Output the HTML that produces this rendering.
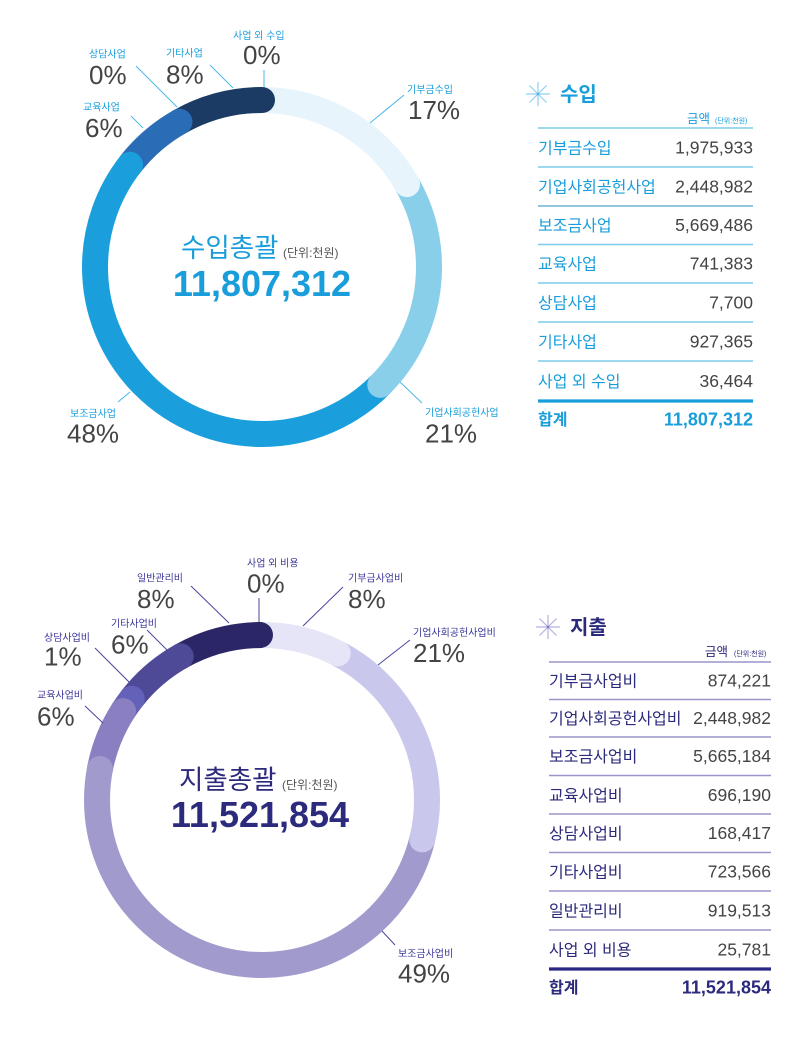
<!DOCTYPE html>
<html lang="ko">
<head>
<meta charset="utf-8">
<style>
  html, body { margin: 0; padding: 0; background: #ffffff; }
  body { width: 800px; height: 1051px; overflow: hidden; }
  svg { display: block; }
  .kr { font-family: "Liberation Sans", "Noto Sans CJK KR", sans-serif; }
  .num { font-family: "Liberation Sans", "Noto Sans CJK KR", sans-serif; }
</style>
</head>
<body>
<svg width="800" height="1051" viewBox="0 0 800 1051" xmlns="http://www.w3.org/2000/svg">
  <rect x="0" y="0" width="800" height="1051" fill="#ffffff"/>

  <!-- ================= TOP DONUT (수입) ================= -->
  <g fill="none" stroke-width="26" transform="rotate(-90 262 267)">
    <circle cx="262" cy="267" r="167" stroke="#e7f4fb" stroke-dasharray="176.6 3000" stroke-dashoffset="0"/>
    <circle cx="262" cy="267" r="167" stroke="#8acfea" stroke-dasharray="218.6 3000" stroke-dashoffset="-175.6"/>
    <circle cx="262" cy="267" r="167" stroke="#1b9fdc" stroke-dasharray="504.8 3000" stroke-dashoffset="-393.2"/>
    <circle cx="262" cy="267" r="167" stroke="#2a6db6" stroke-dasharray="66.9 3000" stroke-dashoffset="-897.1"/>
    <circle cx="262" cy="267" r="167" stroke="#1b3b64" stroke-dasharray="86.4 3000" stroke-dashoffset="-962.9"/>
  </g>
  <g>
    <circle cx="262" cy="100" r="13" fill="#1b3b64"/>
    <circle cx="179.5" cy="121.8" r="13" fill="#2a6db6"/>
    <circle cx="130.0" cy="164.8" r="13" fill="#1b9fdc"/>
    <circle cx="380.3" cy="384.9" r="13" fill="#8acfea"/>
    <circle cx="407.0" cy="184.1" r="13" fill="#e7f4fb"/>
  </g>

  <!-- top leader lines -->
  <g stroke="#4ab8e6" stroke-width="1">
    <line x1="264" y1="70" x2="264" y2="87"/>
    <line x1="210" y1="65" x2="233" y2="88"/>
    <line x1="136" y1="66" x2="177" y2="107"/>
    <line x1="131" y1="116" x2="143" y2="128"/>
    <line x1="404" y1="95" x2="370" y2="123"/>
    <line x1="118" y1="402" x2="130" y2="392"/>
    <line x1="400" y1="382" x2="422" y2="403"/>
  </g>

  <!-- top labels -->
  <g class="kr" font-size="10" fill="#1a9edb">
    <text x="233" y="39">사업 외 수입</text>
    <text x="166" y="56.5">기타사업</text>
    <text x="89" y="57.5">상담사업</text>
    <text x="83" y="110.5">교육사업</text>
    <text x="407" y="93">기부금수입</text>
    <text x="70" y="417">보조금사업</text>
    <text x="425" y="416">기업사회공헌사업</text>
  </g>
  <g class="num" font-size="26" fill="#444444">
    <text x="243" y="64">0%</text>
    <text x="166" y="83.5">8%</text>
    <text x="89" y="84">0%</text>
    <text x="85" y="137">6%</text>
    <text x="408" y="119">17%</text>
    <text x="67" y="442.5">48%</text>
    <text x="425" y="442.5">21%</text>
  </g>

  <!-- top center -->
  <text class="kr" x="181" y="257" font-size="26.5" fill="#1a9edb">수입총괄</text>
  <text class="kr" x="283" y="257" font-size="12" fill="#555555">(단위:천원)</text>
  <text class="num" x="262" y="296" font-size="36" font-weight="bold" fill="#1a9edb" text-anchor="middle">11,807,312</text>

  <!-- ================= TOP TABLE ================= -->
  <g stroke="#8fd0ee" stroke-width="1.2">
    <line x1="526" y1="94" x2="550" y2="94"/>
    <line x1="538" y1="82" x2="538" y2="106"/>
    <line x1="529.5" y1="85.5" x2="546.5" y2="102.5"/>
    <line x1="546.5" y1="85.5" x2="529.5" y2="102.5"/>
  </g>
  <circle cx="538" cy="94" r="1.2" fill="#4ab8e6"/>
  <text class="kr" x="560" y="101" font-size="20" font-weight="bold" fill="#1a9edb">수입</text>
  <text class="kr" x="687" y="123" font-size="12.5" fill="#1a9edb">금액</text>
  <text class="kr" x="715" y="123" font-size="7" fill="#1a9edb">(단위:천원)</text>

  <g stroke="#7fcbea" stroke-width="1.6">
    <line x1="538" y1="128" x2="753" y2="128"/>
    <line x1="538" y1="167" x2="753" y2="167"/>
    <line x1="538" y1="206" x2="753" y2="206" stroke="#6fb3d3"/>
    <line x1="538" y1="244.5" x2="753" y2="244.5"/>
    <line x1="538" y1="283" x2="753" y2="283"/>
    <line x1="538" y1="322" x2="753" y2="322"/>
    <line x1="538" y1="361" x2="753" y2="361"/>
  </g>
  <line x1="538" y1="401" x2="753" y2="401" stroke="#1a9edb" stroke-width="3.2"/>

  <g class="kr" font-size="16" fill="#1a9edb">
    <text x="538" y="153.5">기부금수입</text>
    <text x="538" y="192.5">기업사회공헌사업</text>
    <text x="538" y="231">보조금사업</text>
    <text x="538" y="269.5">교육사업</text>
    <text x="538" y="308.5">상담사업</text>
    <text x="538" y="347.5">기타사업</text>
    <text x="538" y="387">사업 외 수입</text>
    <text x="538" y="425" font-weight="bold">합계</text>
  </g>
  <g class="num" font-size="17.5" fill="#444444" text-anchor="end">
    <text x="753" y="153.5">1,975,933</text>
    <text x="753" y="192.5">2,448,982</text>
    <text x="753" y="231">5,669,486</text>
    <text x="753" y="269.5">741,383</text>
    <text x="753" y="308.5">7,700</text>
    <text x="753" y="347.5">927,365</text>
    <text x="753" y="387">36,464</text>
    <text x="753" y="425.5" font-size="18" font-weight="bold" fill="#1a9edb">11,807,312</text>
  </g>

  <!-- ================= BOTTOM DONUT (지출) ================= -->
  <g fill="none" stroke-width="26" transform="rotate(-90 262 800)">
    <circle cx="262" cy="800" r="165" stroke="#e6e5f8" stroke-dasharray="79.7 3000" stroke-dashoffset="0"/>
    <circle cx="262" cy="800" r="165" stroke="#c9c7ec" stroke-dasharray="221.4 3000" stroke-dashoffset="-78.7"/>
    <circle cx="262" cy="800" r="165" stroke="#a19bcd" stroke-dasharray="510.8 3000" stroke-dashoffset="-299.0"/>
    <circle cx="262" cy="800" r="165" stroke="#8a80c1" stroke-dasharray="63.6 3000" stroke-dashoffset="-808.8"/>
    <circle cx="262" cy="800" r="165" stroke="#6461b8" stroke-dasharray="16.2 3000" stroke-dashoffset="-871.4"/>
    <circle cx="262" cy="800" r="165" stroke="#4f4a98" stroke-dasharray="66.1 3000" stroke-dashoffset="-886.6"/>
    <circle cx="262" cy="800" r="165" stroke="#2b2766" stroke-dasharray="85.1 3000" stroke-dashoffset="-951.7"/>
  </g>
  <g>
    <circle cx="260" cy="635" r="13" fill="#2b2766"/>
    <circle cx="180.7" cy="656.4" r="13" fill="#4f4a98"/>
    <circle cx="131.8" cy="698.7" r="13" fill="#6461b8"/>
    <circle cx="123.0" cy="711.1" r="13" fill="#8a80c1"/>
    <circle cx="99.9" cy="769.0" r="13" fill="#a19bcd"/>
    <circle cx="422.2" cy="839.4" r="13" fill="#c9c7ec"/>
    <circle cx="337.7" cy="653.4" r="13" fill="#e6e5f8"/>
  </g>

  <!-- bottom leader lines -->
  <g stroke="#4b469e" stroke-width="1">
    <line x1="259" y1="598" x2="259" y2="622"/>
    <line x1="191" y1="586" x2="229" y2="623"/>
    <line x1="343" y1="587" x2="303" y2="626"/>
    <line x1="410" y1="640" x2="378" y2="665"/>
    <line x1="147" y1="630" x2="167" y2="650"/>
    <line x1="95" y1="648" x2="130" y2="683"/>
    <line x1="85" y1="706" x2="103" y2="723"/>
    <line x1="382" y1="931" x2="395" y2="945"/>
  </g>

  <!-- bottom labels -->
  <g class="kr" font-size="10" fill="#3c3799">
    <text x="247" y="566.5">사업 외 비용</text>
    <text x="137" y="581.5">일반관리비</text>
    <text x="348" y="581.5">기부금사업비</text>
    <text x="413" y="636">기업사회공헌사업비</text>
    <text x="111" y="627">기타사업비</text>
    <text x="44" y="641">상담사업비</text>
    <text x="37" y="698.5">교육사업비</text>
    <text x="398" y="957">보조금사업비</text>
  </g>
  <g class="num" font-size="26" fill="#444444">
    <text x="247" y="592.5">0%</text>
    <text x="137" y="608">8%</text>
    <text x="348" y="608">8%</text>
    <text x="413" y="662">21%</text>
    <text x="111" y="653.5">6%</text>
    <text x="44" y="665.5">1%</text>
    <text x="37" y="725.5">6%</text>
    <text x="398" y="982.5">49%</text>
  </g>

  <!-- bottom center -->
  <text class="kr" x="179" y="789" font-size="26.5" fill="#2c2a7c">지출총괄</text>
  <text class="kr" x="282" y="789" font-size="12" fill="#555555">(단위:천원)</text>
  <text class="num" x="260" y="827" font-size="36" font-weight="bold" fill="#2c2a7c" text-anchor="middle">11,521,854</text>

  <!-- ================= BOTTOM TABLE ================= -->
  <g stroke="#b4b1e0" stroke-width="1.2">
    <line x1="536" y1="627" x2="560" y2="627"/>
    <line x1="548" y1="615" x2="548" y2="639"/>
    <line x1="539.5" y1="618.5" x2="556.5" y2="635.5"/>
    <line x1="556.5" y1="618.5" x2="539.5" y2="635.5"/>
  </g>
  <circle cx="548" cy="627" r="1.2" fill="#7d78c2"/>
  <text class="kr" x="570" y="634" font-size="20" font-weight="bold" fill="#2c2a7c">지출</text>
  <text class="kr" x="705" y="656" font-size="12.5" fill="#2c2a7c">금액</text>
  <text class="kr" x="734" y="656" font-size="7" fill="#2c2a7c">(단위:천원)</text>

  <g stroke="#9996c9" stroke-width="1.6">
    <line x1="549" y1="662" x2="771" y2="662"/>
    <line x1="549" y1="699.5" x2="771" y2="699.5"/>
    <line x1="549" y1="737" x2="771" y2="737"/>
    <line x1="549" y1="775.5" x2="771" y2="775.5"/>
    <line x1="549" y1="814" x2="771" y2="814"/>
    <line x1="549" y1="852.5" x2="771" y2="852.5"/>
    <line x1="549" y1="891" x2="771" y2="891"/>
    <line x1="549" y1="930" x2="771" y2="930"/>
  </g>
  <line x1="549" y1="969" x2="771" y2="969" stroke="#2b2785" stroke-width="3.2"/>

  <g class="kr" font-size="16" fill="#2c2a7c">
    <text x="549" y="686.5">기부금사업비</text>
    <text x="549" y="724">기업사회공헌사업비</text>
    <text x="549" y="762">보조금사업비</text>
    <text x="549" y="801">교육사업비</text>
    <text x="549" y="839">상담사업비</text>
    <text x="549" y="877.5">기타사업비</text>
    <text x="549" y="916.5">일반관리비</text>
    <text x="549" y="955.5">사업 외 비용</text>
    <text x="549" y="993" font-weight="bold">합계</text>
  </g>
  <g class="num" font-size="17.5" fill="#444444" text-anchor="end">
    <text x="771" y="686.5">874,221</text>
    <text x="771" y="724">2,448,982</text>
    <text x="771" y="762">5,665,184</text>
    <text x="771" y="801">696,190</text>
    <text x="771" y="839">168,417</text>
    <text x="771" y="877.5">723,566</text>
    <text x="771" y="916.5">919,513</text>
    <text x="771" y="955.5">25,781</text>
    <text x="771" y="993.5" font-size="18" font-weight="bold" fill="#2c2a7c">11,521,854</text>
  </g>
</svg>
</body>
</html>
